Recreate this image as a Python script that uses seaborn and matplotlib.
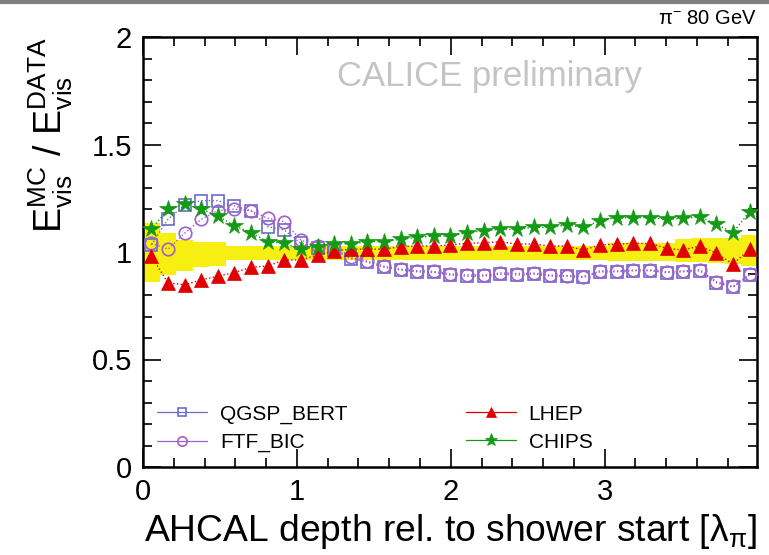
import numpy as np
import pandas as pd
import matplotlib
matplotlib.use("Agg")
import matplotlib.pyplot as plt
from matplotlib.lines import Line2D
from matplotlib.ticker import MultipleLocator
import seaborn as sns

# ---------------- data ----------------
bin_width = 0.108
n_bins = 37
depth = (np.arange(n_bins) + 0.5) * bin_width  # bin centres [lambda_pi]

qgsp_bert = [1.033, 1.152, 1.219, 1.239, 1.239, 1.214, 1.192, 1.118, 1.102, 1.040,
             1.020, 1.010, 0.968, 0.953, 0.929, 0.916, 0.908, 0.905, 0.893, 0.888,
             0.888, 0.898, 0.893, 0.898, 0.888, 0.888, 0.882, 0.908, 0.908, 0.913,
             0.913, 0.904, 0.908, 0.913, 0.857, 0.836, 0.893]
ftf_bic = [1.040, 1.013, 1.087, 1.152, 1.192, 1.199, 1.192, 1.157, 1.141, 1.055,
           1.028, 1.014, 0.975, 0.958, 0.934, 0.920, 0.913, 0.910, 0.898, 0.893,
           0.893, 0.903, 0.900, 0.902, 0.892, 0.890, 0.886, 0.912, 0.912, 0.916,
           0.916, 0.908, 0.912, 0.918, 0.862, 0.840, 0.896]
lhep = [0.981, 0.857, 0.847, 0.870, 0.888, 0.904, 0.929, 0.935, 0.963, 0.963,
        0.986, 1.005, 1.013, 1.013, 1.013, 1.025, 1.028, 1.028, 1.033, 1.040,
        1.043, 1.048, 1.037, 1.037, 1.028, 1.028, 1.009, 1.033, 1.037, 1.040,
        1.040, 1.017, 1.009, 1.028, 0.994, 0.944, 1.013]
chips = [1.105, 1.199, 1.222, 1.201, 1.167, 1.123, 1.090, 1.048, 1.040, 1.013,
         1.024, 1.039, 1.037, 1.048, 1.048, 1.059, 1.068, 1.074, 1.074, 1.090,
         1.099, 1.105, 1.105, 1.115, 1.115, 1.126, 1.115, 1.146, 1.160, 1.160,
         1.160, 1.152, 1.157, 1.164, 1.129, 1.090, 1.188]
band_lo = [0.862, 0.893, 0.910, 0.930, 0.935, 0.962, 0.963, 0.963, 0.963, 0.963,
           0.963, 0.965, 0.965, 0.965, 0.965, 0.965, 0.965, 0.965, 0.965, 0.965,
           0.965, 0.963, 0.963, 0.963, 0.963, 0.963, 0.963, 0.963, 0.960, 0.960,
           0.960, 0.960, 0.952, 0.952, 0.948, 0.945, 0.935]
band_hi = [1.133, 1.087, 1.058, 1.048, 1.045, 1.028, 1.027, 1.027, 1.027, 1.027,
           1.027, 1.027, 1.027, 1.027, 1.027, 1.027, 1.027, 1.027, 1.027, 1.027,
           1.027, 1.030, 1.030, 1.030, 1.030, 1.030, 1.030, 1.030, 1.040, 1.040,
           1.040, 1.040, 1.062, 1.065, 1.066, 1.066, 1.080]

series_names = ["QGSP_BERT", "FTF_BIC", "LHEP", "CHIPS"]

df = pd.DataFrame({"depth": depth, "QGSP_BERT": qgsp_bert, "FTF_BIC": ftf_bic,
                   "LHEP": lhep, "CHIPS": chips})

# ---------------- style ----------------
sns.set_theme(style="ticks")
plt.rcParams["font.family"] = ["Liberation Sans", "DejaVu Sans"]
plt.rcParams["mathtext.fontset"] = "custom"
plt.rcParams["mathtext.rm"] = "Liberation Sans"
plt.rcParams["mathtext.it"] = "Liberation Sans:italic"
plt.rcParams["mathtext.default"] = "regular"
plt.rcParams["text.color"] = "black"
plt.rcParams["axes.labelcolor"] = "black"
plt.rcParams["xtick.color"] = "black"
plt.rcParams["ytick.color"] = "black"

fig = plt.figure(figsize=(7.69, 5.55), dpi=100)
ax = fig.add_axes([143 / 769, 1 - 467 / 555, (757 - 143) / 769, (467 - 37) / 555])

# data uncertainty band (yellow, per bin)
ax.bar(depth, np.array(band_hi) - np.array(band_lo), bottom=band_lo,
       width=bin_width, color="#f7ef12", edgecolor="none", zorder=1)

styles = {
    "QGSP_BERT": dict(color="#6a6ad0", marker="s", mfc="none", ms=8.5, mew=1.2),
    "FTF_BIC": dict(color="#a060c8", marker="o", mfc="none", ms=9, mew=1.2),
    "LHEP": dict(color="#e00000", marker="^", mfc="#e00000", ms=10.5, mew=0.5),
    "CHIPS": dict(color="#159a15", marker="*", mfc="#159a15", ms=13, mew=0.5),
}

for name in series_names:
    st = styles[name]
    sns.lineplot(data=df, x="depth", y=name, ax=ax, color=st["color"],
                 linestyle=":", linewidth=1.0, marker=st["marker"],
                 markerfacecolor=st["mfc"], markeredgecolor=st["color"],
                 markersize=st["ms"], markeredgewidth=st["mew"], zorder=3)

ax.set_xlim(0, 3.99)
ax.set_ylim(0, 2)
ax.xaxis.set_major_locator(MultipleLocator(1))
ax.xaxis.set_minor_locator(MultipleLocator(0.2))
ax.yaxis.set_major_locator(MultipleLocator(0.5))
ax.yaxis.set_minor_locator(MultipleLocator(0.1))
ax.set_yticks([0, 0.5, 1, 1.5, 2])
ax.set_yticklabels(["0", "0.5", "1", "1.5", "2"])
ax.set_xticks([0, 1, 2, 3])
ax.set_xticklabels(["0", "1", "2", "3"])
ax.tick_params(which="both", direction="in", top=True, right=True,
               colors="black", width=1.2)
ax.tick_params(which="major", length=13, labelsize=21, pad=8)
ax.tick_params(which="minor", length=6.5)
for sp in ax.spines.values():
    sp.set_linewidth(1.8)
    sp.set_color("black")

ax.set_xlabel(r"AHCAL depth rel. to shower start [$\lambda_{\pi}$]", fontsize=26.8,
              loc="right", labelpad=4)
ax.set_ylabel(r"$E_{vis}^{MC}$ / $E_{vis}^{DATA}$", fontsize=27, loc="top",
              labelpad=12)

ax.text(0.565, 0.907, "CALICE preliminary", transform=ax.transAxes,
        fontsize=25, color="#c4c4c4", ha="center", va="center")
fig.text(757 / 769, 1 - 18 / 555, r"$\pi^{-}$ 80 GeV", fontsize=14.5,
         ha="right", va="center")

# legend (ROOT style: line through marker)
handles = []
for name in series_names:
    st = styles[name]
    handles.append(Line2D([0], [0], color=st["color"], linestyle="-", linewidth=0.9,
                          marker=st["marker"], markerfacecolor=st["mfc"],
                          markeredgecolor=st["color"],
                          markersize=st["ms"] * 0.75, markeredgewidth=st["mew"]))
leg = ax.legend(handles, series_names, ncol=2,
                loc="lower left", bbox_to_anchor=(0.01, 0.015), borderaxespad=0,
                frameon=False, fontsize=15, handlelength=2.4, columnspacing=5.7,
                labelspacing=0.44, handletextpad=0.6)

# top grey frame of the canvas
fig.add_artist(Line2D([0, 1], [0.997, 0.997], transform=fig.transFigure,
                      color="#808080", linewidth=3))

fig.savefig("out.png", dpi=100)
